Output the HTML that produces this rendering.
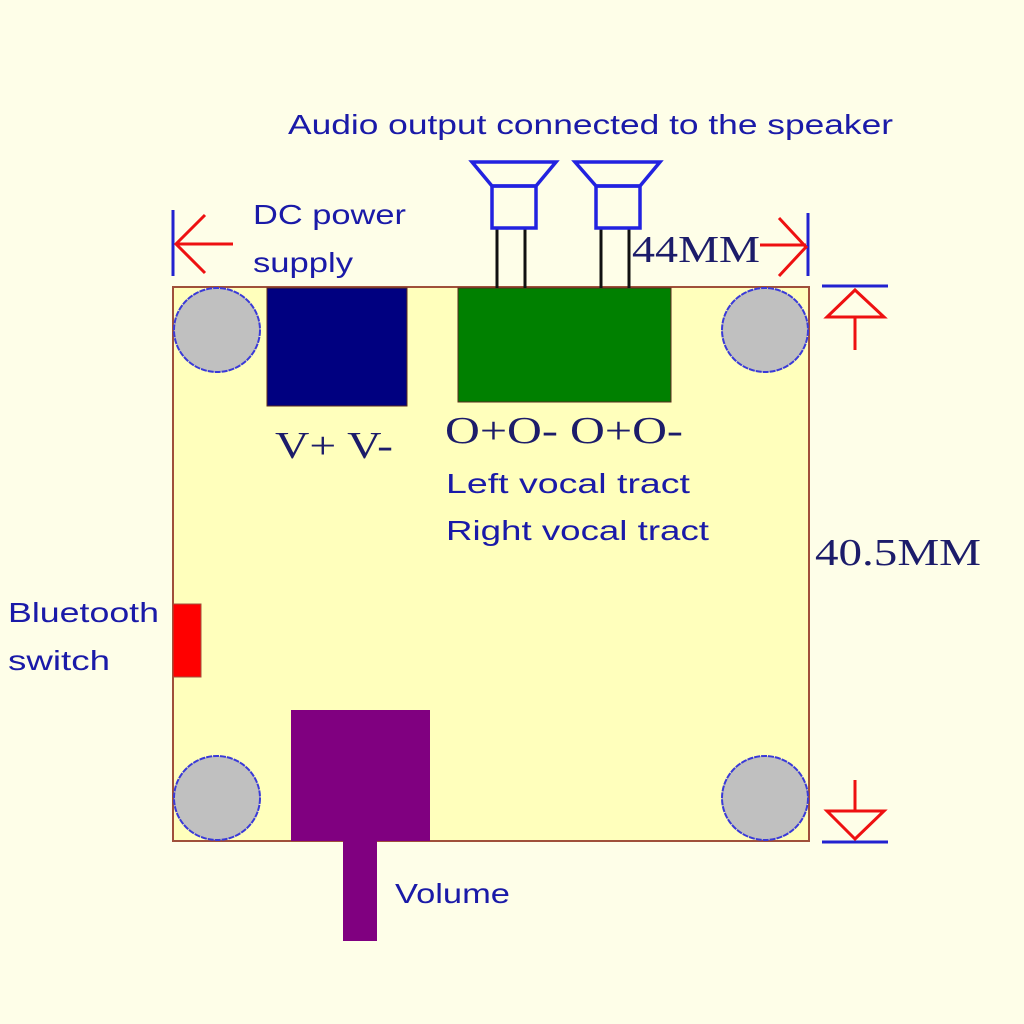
<!DOCTYPE html>
<html><head><meta charset="utf-8"><style>
html,body{margin:0;padding:0;background:#fefee8;}
svg{display:block;}
.s{font-family:"Liberation Sans",sans-serif;fill:#1a1aa8;font-size:28px;}
.r{font-family:"Liberation Serif",serif;fill:#1c1c6a;}
</style></head><body>
<svg width="1024" height="1024" viewBox="0 0 1024 1024">
<rect width="1024" height="1024" fill="#fefee8"/>
<rect x="173" y="287" width="636" height="554" fill="#ffffbc" stroke="#a0503a" stroke-width="2"/>
<g fill="#c0c0c0" stroke="#3a3ad8" stroke-width="2" stroke-dasharray="6 1">
<ellipse cx="217" cy="330" rx="43" ry="42"/>
<ellipse cx="765" cy="330" rx="43" ry="42"/>
<ellipse cx="217" cy="798" rx="43" ry="42"/>
<ellipse cx="765" cy="798" rx="43" ry="42"/>
</g>
<rect x="267" y="288" width="140" height="118" fill="#000080" stroke="#5a2a20" stroke-width="1"/>
<rect x="458" y="288" width="213" height="114" fill="#008000" stroke="#5a2a20" stroke-width="1"/>
<rect x="173" y="604" width="28" height="73" fill="#ff0000" stroke="#a0503a" stroke-width="1"/>
<rect x="291" y="710" width="139" height="131" fill="#800080"/>
<rect x="343" y="841" width="34" height="100" fill="#800080"/>
<g stroke="#111" stroke-width="3">
<line x1="497" y1="228" x2="497" y2="288"/><line x1="525" y1="228" x2="525" y2="288"/>
<line x1="601" y1="228" x2="601" y2="288"/><line x1="629" y1="228" x2="629" y2="288"/>
</g>
<g fill="none" stroke="#2222e0" stroke-width="3.5">
<polygon points="472,162 556,162 536,186 492,186"/>
<rect x="492" y="186" width="44" height="42"/>
<polygon points="575,162 660,162 640,186 596,186"/>
<rect x="596" y="186" width="44" height="42"/>
</g>
<g stroke="#2222d0" stroke-width="3">
<line x1="173" y1="210" x2="173" y2="276"/>
<line x1="808" y1="213" x2="808" y2="276"/>
<line x1="822" y1="286" x2="888" y2="286"/>
<line x1="822" y1="842" x2="888" y2="842"/>
</g>
<g fill="none" stroke="#ee1111" stroke-width="3">
<polyline points="205,215 176,244 205,273"/><line x1="176" y1="244" x2="233" y2="244"/>
<polyline points="779,218 806,247 779,276"/><line x1="760" y1="245" x2="806" y2="245"/>
<polygon points="855,290 827,317 884,317"/><line x1="855" y1="317" x2="855" y2="350"/>
<polygon points="855,839 827,811 884,811"/><line x1="855" y1="811" x2="855" y2="780"/>
</g>
<text class="s" x="288" y="134" textLength="605" lengthAdjust="spacingAndGlyphs">Audio output connected to the speaker</text>
<text class="s" x="253" y="224" textLength="153" lengthAdjust="spacingAndGlyphs">DC power</text>
<text class="s" x="253" y="272" textLength="100" lengthAdjust="spacingAndGlyphs">supply</text>
<text class="r" x="632" y="262" font-size="38" textLength="128" lengthAdjust="spacingAndGlyphs">44MM</text>
<text class="r" x="275" y="458" font-size="38" textLength="118" lengthAdjust="spacingAndGlyphs">V+ V-</text>
<text class="r" x="445" y="443" font-size="38" textLength="238" lengthAdjust="spacingAndGlyphs">O+O- O+O-</text>
<text class="s" x="446" y="493" textLength="244" lengthAdjust="spacingAndGlyphs">Left vocal tract</text>
<text class="s" x="446" y="540" textLength="263" lengthAdjust="spacingAndGlyphs">Right vocal tract</text>
<text class="r" x="815" y="565" font-size="38" textLength="166" lengthAdjust="spacingAndGlyphs">40.5MM</text>
<text class="s" x="8" y="622" textLength="151" lengthAdjust="spacingAndGlyphs">Bluetooth</text>
<text class="s" x="8" y="670" textLength="102" lengthAdjust="spacingAndGlyphs">switch</text>
<text class="s" x="395" y="903" textLength="115" lengthAdjust="spacingAndGlyphs">Volume</text>
</svg>
</body></html>
